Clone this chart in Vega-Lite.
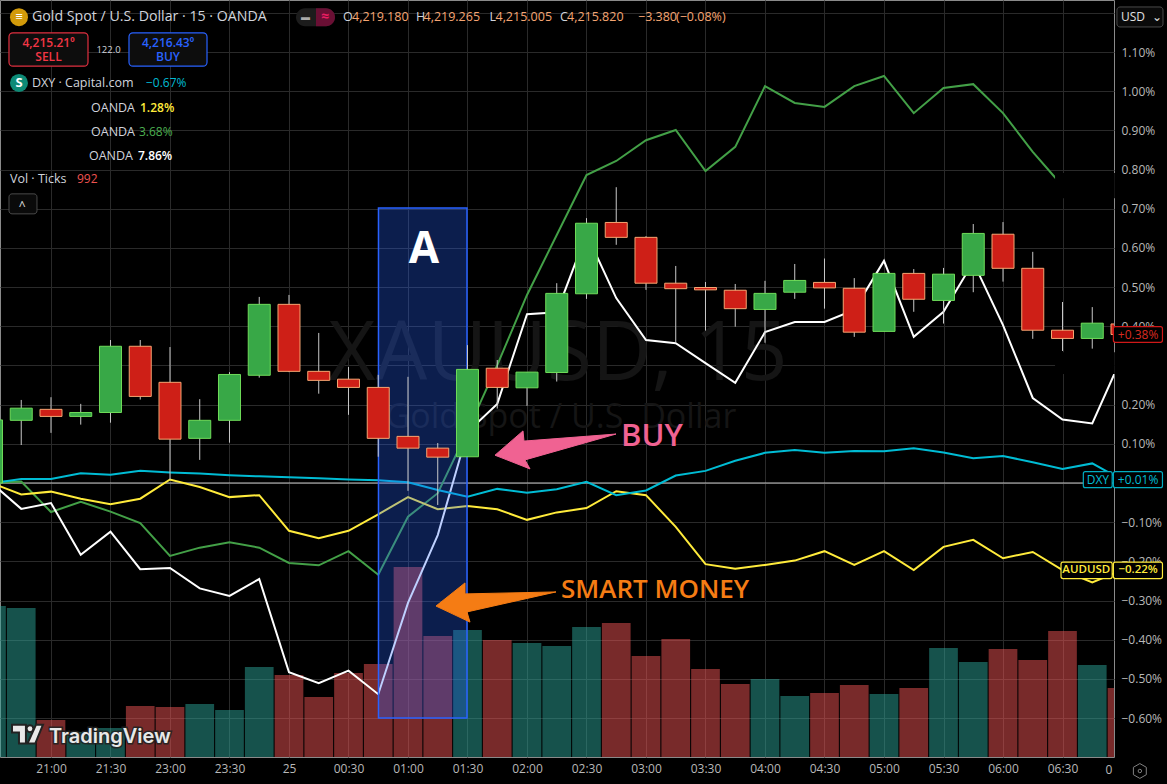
{"$schema":"https://vega.github.io/schema/vega-lite/v6.json","width":1114,"height":757,"autosize":{"type":"none"},"padding":{"left":0,"top":0,"right":53,"bottom":27},"background":"#000000","config":{"font":"Open Sans","view":{"stroke":"#8a8a8a"},"text":{"baseline":"middle","align":"left"}},
"datasets":{"bars":[
{"t":-2,"dir":"up","o":0,"c":0.161,"h":0.161,"l":0,"vol":2171,"white":0,"green":0,"yellow":0,"dxy":0},
{"t":-1,"dir":"up","o":0.16,"c":0.191,"h":0.212,"l":0.097,"vol":2143,"white":-0.066,"green":0.004,"yellow":-0.029,"dxy":0.01},
{"t":0,"dir":"down","o":0.188,"c":0.17,"h":0.219,"l":0.128,"vol":532,"white":-0.051,"green":-0.074,"yellow":-0.022,"dxy":0.01},
{"t":1,"dir":"up","o":0.17,"c":0.18,"h":0.202,"l":0.149,"vol":360,"white":-0.183,"green":-0.048,"yellow":-0.04,"dxy":0.025},
{"t":2,"dir":"up","o":0.18,"c":0.349,"h":0.365,"l":0.154,"vol":417,"white":-0.124,"green":-0.073,"yellow":-0.054,"dxy":0.021},
{"t":3,"dir":"down","o":0.349,"c":0.221,"h":0.365,"l":0.213,"vol":733,"white":-0.22,"green":-0.102,"yellow":-0.04,"dxy":0.031},
{"t":4,"dir":"down","o":0.257,"c":0.112,"h":0.347,"l":0.008,"vol":719,"white":-0.217,"green":-0.186,"yellow":0.009,"dxy":0.027},
{"t":5,"dir":"up","o":0.114,"c":0.16,"h":0.214,"l":0.059,"vol":762,"white":-0.269,"green":-0.165,"yellow":-0.01,"dxy":0.024},
{"t":6,"dir":"up","o":0.16,"c":0.277,"h":0.283,"l":0.103,"vol":676,"white":-0.288,"green":-0.151,"yellow":-0.036,"dxy":0.02},
{"t":7,"dir":"up","o":0.275,"c":0.456,"h":0.475,"l":0.269,"vol":1294,"white":-0.245,"green":-0.165,"yellow":-0.031,"dxy":0.017},
{"t":8,"dir":"down","o":0.456,"c":0.285,"h":0.48,"l":0.283,"vol":1179,"white":-0.483,"green":-0.204,"yellow":-0.122,"dxy":0.015},
{"t":9,"dir":"down","o":0.285,"c":0.262,"h":0.383,"l":0.228,"vol":863,"white":-0.511,"green":-0.21,"yellow":-0.141,"dxy":0.012},
{"t":10,"dir":"down","o":0.265,"c":0.244,"h":0.296,"l":0.174,"vol":1208,"white":-0.479,"green":-0.174,"yellow":-0.122,"dxy":0.009},
{"t":11,"dir":"down","o":0.244,"c":0.114,"h":0.276,"l":0.067,"vol":1337,"white":-0.539,"green":-0.234,"yellow":-0.08,"dxy":0.007},
{"t":12,"dir":"down","o":0.119,"c":0.089,"h":0.271,"l":-0.02,"vol":2732,"white":-0.306,"green":-0.086,"yellow":-0.036,"dxy":0.002},
{"t":13,"dir":"down","o":0.089,"c":0.066,"h":0.102,"l":-0.056,"vol":1740,"white":-0.133,"green":-0.026,"yellow":-0.067,"dxy":-0.018},
{"t":14,"dir":"up","o":0.067,"c":0.29,"h":0.352,"l":0.067,"vol":1826,"white":0.13,"green":0.133,"yellow":-0.059,"dxy":-0.035},
{"t":15,"dir":"down","o":0.293,"c":0.244,"h":0.314,"l":0.19,"vol":1682,"white":0.202,"green":0.301,"yellow":-0.067,"dxy":-0.015},
{"t":16,"dir":"up","o":0.243,"c":0.283,"h":0.283,"l":0.197,"vol":1639,"white":0.431,"green":0.48,"yellow":-0.094,"dxy":-0.025},
{"t":17,"dir":"up","o":0.282,"c":0.484,"h":0.51,"l":0.259,"vol":1596,"white":0.436,"green":0.633,"yellow":-0.075,"dxy":-0.016},
{"t":18,"dir":"up","o":0.483,"c":0.663,"h":0.676,"l":0.47,"vol":1869,"white":0.636,"green":0.786,"yellow":-0.064,"dxy":0.003},
{"t":19,"dir":"down","o":0.665,"c":0.627,"h":0.755,"l":0.608,"vol":1927,"white":0.472,"green":0.822,"yellow":-0.021,"dxy":-0.031},
{"t":20,"dir":"down","o":0.627,"c":0.51,"h":0.63,"l":0.493,"vol":1452,"white":0.365,"green":0.875,"yellow":-0.031,"dxy":-0.019},
{"t":21,"dir":"down","o":0.51,"c":0.496,"h":0.554,"l":0.36,"vol":1697,"white":0.357,"green":0.901,"yellow":-0.112,"dxy":0.019},
{"t":22,"dir":"down","o":0.499,"c":0.493,"h":0.513,"l":0.389,"vol":1265,"white":0.306,"green":0.796,"yellow":-0.207,"dxy":0.031},
{"t":23,"dir":"down","o":0.492,"c":0.445,"h":0.508,"l":0.399,"vol":1050,"white":0.256,"green":0.858,"yellow":-0.219,"dxy":0.057},
{"t":24,"dir":"up","o":0.443,"c":0.484,"h":0.516,"l":0.358,"vol":1122,"white":0.385,"green":1.013,"yellow":-0.209,"dxy":0.077},
{"t":25,"dir":"up","o":0.487,"c":0.517,"h":0.559,"l":0.47,"vol":877,"white":0.411,"green":0.97,"yellow":-0.198,"dxy":0.084},
{"t":26,"dir":"down","o":0.512,"c":0.498,"h":0.573,"l":0.445,"vol":920,"white":0.411,"green":0.96,"yellow":-0.174,"dxy":0.077},
{"t":27,"dir":"down","o":0.497,"c":0.385,"h":0.523,"l":0.373,"vol":1035,"white":0.442,"green":1.013,"yellow":-0.209,"dxy":0.082},
{"t":28,"dir":"up","o":0.387,"c":0.535,"h":0.535,"l":0.387,"vol":906,"white":0.567,"green":1.039,"yellow":-0.174,"dxy":0.081},
{"t":29,"dir":"down","o":0.535,"c":0.469,"h":0.546,"l":0.437,"vol":992,"white":0.373,"green":0.944,"yellow":-0.222,"dxy":0.089},
{"t":30,"dir":"up","o":0.466,"c":0.533,"h":0.549,"l":0.407,"vol":1567,"white":0.437,"green":1.008,"yellow":-0.163,"dxy":0.078},
{"t":31,"dir":"up","o":0.53,"c":0.637,"h":0.661,"l":0.487,"vol":1366,"white":0.564,"green":1.018,"yellow":-0.145,"dxy":0.063},
{"t":32,"dir":"down","o":0.635,"c":0.548,"h":0.666,"l":0.514,"vol":1553,"white":0.403,"green":0.944,"yellow":-0.192,"dxy":0.069},
{"t":33,"dir":"down","o":0.548,"c":0.39,"h":0.59,"l":0.368,"vol":1395,"white":0.217,"green":0.845,"yellow":-0.176,"dxy":0.053},
{"t":34,"dir":"down","o":0.39,"c":0.369,"h":0.462,"l":0.337,"vol":1812,"white":0.162,"green":0.758,"yellow":-0.222,"dxy":0.036},
{"t":35,"dir":"up","o":0.369,"c":0.408,"h":0.449,"l":0.343,"vol":1323,"white":0.152,"green":null,"yellow":-0.254,"dxy":0.05},
{"t":36,"dir":"down","o":0.406,"c":0.379,"h":0.406,"l":0.379,"vol":992,"white":0.322,"green":null,"yellow":-0.222,"dxy":0.008}
]},
"encoding":{"x":{"field":"t","type":"quantitative","scale":{"domain":[-1.714,35.731],"nice":false,"zero":false,"padding":0},"axis":{"title":null,"values":[0,2,4,6,8,10,12,14,16,18,20,22,24,26,28,30,32,34],"labelExpr":"['21:00','21:30','23:00','23:30','25','00:30','01:00','01:30','02:00','02:30','03:00','03:30','04:00','04:30','05:00','05:30','06:00','06:30'][datum.value/2]","grid":true,"gridColor":"#2a2a2a","gridWidth":1,"domain":false,"ticks":false,"labelColor":"#b8b8b8","labelFontSize":12,"labelPadding":6,"labelOverlap":false,"labelBound":false,"labelFlush":false}}},
"resolve":{"scale":{"y":"independent"}},
"layer":[
{"data":{"name":"bars"},"mark":{"type":"bar","size":28.7,"clip":true,"opacity":0.5},"encoding":{"y":{"field":"vol","type":"quantitative","scale":{"domain":[0,10886],"nice":false},"axis":null},"color":{"condition":{"test":"datum.dir==='up'","value":"#2ca498"},"value":"#f05454"}}},
{"encoding":{"y":{"field":"pct","type":"quantitative","scale":{"domain":[-0.6993,1.2328],"nice":false,"zero":false},"axis":{"title":null,"orient":"right","values":[1.2,1.1,1,0.9,0.8,0.7,0.6,0.5,0.4,0.3,0.2,0.1,0,-0.1,-0.2,-0.3,-0.4,-0.5,-0.6],"labelExpr":"abs(datum.value)<0.01||abs(datum.value-1.2)<0.01||abs(datum.value-0.3)<0.01?'':(datum.value<0?'−':'')+format(abs(datum.value),'.2f')+'%'","grid":true,"gridColor":"#2a2a2a","gridWidth":1,"domain":false,"ticks":false,"labelColor":"#b8b8b8","labelFontSize":12,"labelPadding":7,"labelOverlap":false,"labelBound":false,"labelFlush":false}}},
"layer":[
{"data":{"values":[{"t":17.04,"pct":0.327,"label":"XAUUSD, 15"}]},"mark":{"type":"text","align":"center","fontSize":82,"color":"#151515"},"encoding":{"text":{"field":"label"}}},
{"data":{"values":[{"t":17.14,"pct":0.166,"label":"Gold Spot / U.S. Dollar"}]},"mark":{"type":"text","align":"center","fontSize":34,"color":"#151515"},"encoding":{"text":{"field":"label"}}},
{"data":{"values":[{"t":-1.714,"t2":35.731,"pct":0}]},"mark":{"type":"rule","color":"#c8c8c8","strokeWidth":1},"encoding":{"x2":{"field":"t2"}}},
{"data":{"name":"bars"},"transform":[{"fold":["green","yellow","white","dxy"],"as":["series","pct"]}],"mark":{"type":"line","strokeWidth":2,"clip":true},"encoding":{"color":{"field":"series","type":"nominal","scale":{"domain":["green","yellow","white","dxy"],"range":["#43a047","#ffeb3b","#ffffff","#00bcd4"]},"legend":null}}},
{"data":{"values":[{"t":33.75,"t2":35.76,"pct":0.791,"pct2":0.727},{"t":33.75,"t2":35.76,"pct":0.334,"pct2":0.278}]},"mark":{"type":"rect","color":"#000000"},"encoding":{"x2":{"field":"t2"},"y2":{"field":"pct2"}}},
{"data":{"values":[{"t":11.008,"t2":13.983,"pct":0.702,"pct2":-0.6}]},"mark":{"type":"rect","fill":"#2962ff","fillOpacity":0.3,"stroke":"#2962ff","strokeWidth":1.5},"encoding":{"x2":{"field":"t2"},"y2":{"field":"pct2"}}},
{"data":{"name":"bars"},"mark":{"type":"rule","color":"#c8c8c8","strokeWidth":1,"clip":true},"encoding":{"y":{"field":"l","type":"quantitative"},"y2":{"field":"h"}}},
{"data":{"name":"bars"},"mark":{"type":"bar","size":22,"strokeWidth":1,"clip":true},"encoding":{"y":{"field":"o","type":"quantitative"},"y2":{"field":"c"},"fill":{"condition":{"test":"datum.dir==='up'","value":"#38a847"},"value":"#ce1f17"},"stroke":{"condition":{"test":"datum.dir==='up'","value":"#6fdc5a"},"value":"#f5a572"}}},
{"data":{"values":[{"n":1,"t":14.924,"pct":0.071},{"n":2,"t":15.866,"pct":0.133},{"n":3,"t":15.899,"pct":0.107},{"n":4,"t":18.992,"pct":0.125},{"n":5,"t":15.933,"pct":0.059},{"n":6,"t":16.101,"pct":0.036},{"n":7,"t":14.924,"pct":0.071}]},"mark":{"type":"line","fill":"#f06292","stroke":"#f06292","strokeWidth":1},"encoding":{"order":{"field":"n","type":"ordinal"}}},
{"data":{"values":[{"n":1,"t":12.941,"pct":-0.314},{"n":2,"t":13.916,"pct":-0.255},{"n":3,"t":13.916,"pct":-0.283},{"n":4,"t":16.975,"pct":-0.278},{"n":5,"t":13.983,"pct":-0.329},{"n":6,"t":14.084,"pct":-0.355},{"n":7,"t":12.941,"pct":-0.314}]},"mark":{"type":"line","fill":"#f57c14","stroke":"#f57c14","strokeWidth":1},"encoding":{"order":{"field":"n","type":"ordinal"}}},
{"data":{"values":[{"t":12.538,"pct":0.595,"label":"A"}]},"mark":{"type":"text","align":"center","fontSize":44,"fontWeight":"bold","color":"#ffffff"},"encoding":{"text":{"field":"label"}}},
{"data":{"values":[{"t":19.16,"pct":0.117,"label":"BUY"}]},"mark":{"type":"text","fontSize":31,"fontWeight":600,"color":"#f06292"},"encoding":{"text":{"field":"label"}}},
{"data":{"values":[{"t":17.143,"pct":-0.273,"label":"SMART MONEY"}]},"mark":{"type":"text","fontSize":26,"fontWeight":600,"color":"#f57c14"},"encoding":{"text":{"field":"label"}}},
{"data":{"values":[{"t":35.71,"t2":37.36,"pct":0.399,"pct2":0.359}]},"mark":{"type":"rect","fill":"#000000","stroke":"#d01818","strokeWidth":1.2,"cornerRadius":2},"encoding":{"x2":{"field":"t2"},"y2":{"field":"pct2"}}},
{"data":{"values":[{"t":36.54,"pct":0.379,"label":"+0.38%"}]},"mark":{"type":"text","align":"center","fontSize":12,"color":"#d92a20"},"encoding":{"text":{"field":"label"}}},
{"data":{"values":[{"t":34.7,"t2":35.67,"pct":0.029,"pct2":-0.012},{"t":35.71,"t2":37.36,"pct":0.029,"pct2":-0.012}]},"mark":{"type":"rect","fill":"#000000","stroke":"#00acc1","strokeWidth":1.2,"cornerRadius":2},"encoding":{"x2":{"field":"t2"},"y2":{"field":"pct2"}}},
{"data":{"values":[{"t":35.19,"pct":0.008,"label":"DXY"},{"t":36.54,"pct":0.008,"label":"+0.01%"}]},"mark":{"type":"text","align":"center","fontSize":12,"color":"#00bcd4"},"encoding":{"text":{"field":"label"}}},
{"data":{"values":[{"t":33.95,"t2":35.67,"pct":-0.202,"pct2":-0.244},{"t":35.71,"t2":37.36,"pct":-0.202,"pct2":-0.244}]},"mark":{"type":"rect","fill":"#000000","stroke":"#ffeb3b","strokeWidth":1.2,"cornerRadius":2},"encoding":{"x2":{"field":"t2"},"y2":{"field":"pct2"}}},
{"data":{"values":[{"t":34.8,"pct":-0.223,"label":"AUDUSD"},{"t":36.54,"pct":-0.223,"label":"−0.22%"}]},"mark":{"type":"text","align":"center","fontSize":11.5,"fontWeight":600,"color":"#ffeb3b"},"encoding":{"text":{"field":"label"}}},
{"data":{"values":[{"t":35.56,"pct":-0.7325,"label":"0"}]},"mark":{"type":"text","fontSize":12,"align":"center","color":"#b8b8b8"},"encoding":{"text":{"field":"label"}}},
{"data":{"values":[{"t":36.6,"pct":-0.735}]},"mark":{"type":"point","shape":"M0,-1L.87,-.5L.87,.5L0,1L-.87,.5L-.87,-.5Z","size":220,"stroke":"#b8b8b8","strokeWidth":1,"filled":false}},
{"data":{"values":[{"t":36.6,"pct":-0.735}]},"mark":{"type":"point","shape":"circle","size":12,"stroke":"#b8b8b8","strokeWidth":1,"filled":false}},
{"data":{"values":[{"t":-0.79,"pct":-0.641}]},"mark":{"type":"point","shape":"M-1,-.61L-.1,-.61L-.1,.61L-.55,.61L-.55,-.1L-1,-.1ZM-.06,-.35a.22,.22 0 1,0 .44,0a.22,.22 0 1,0 -.44,0ZM.55,-.61L1,-.61L.5,.61L0,.61Z","size":961,"fill":"#e8e8e8","stroke":"#222222","strokeWidth":2,"filled":true,"opacity":1}},
{"data":{"values":[{"t":-0.067,"pct":-0.648,"label":"TradingView"}]},"mark":{"type":"text","font":"Inter","fontWeight":600,"fontSize":20,"color":"#e8e8e8","stroke":"#222222","strokeWidth":3,"strokeOpacity":0.9}, "encoding":{"text":{"field":"label"}}},
{"data":{"values":[{"t":-0.067,"pct":-0.648,"label":"TradingView"}]},"mark":{"type":"text","font":"Inter","fontWeight":600,"fontSize":20,"color":"#e8e8e8"},"encoding":{"text":{"field":"label"}}},
{"data":{"values":[{"t":-1.076,"pct":1.189}]},"mark":{"type":"point","shape":"circle","size":324,"filled":true,"color":"#d29a0a","opacity":1}},
{"data":{"values":[{"t":-1.076,"pct":1.021}]},"mark":{"type":"point","shape":"circle","size":324,"filled":true,"color":"#0d8a76","opacity":1}},
{"data":{"values":[{"t":-1.076,"pct":1.189,"label":"≡"},{"t":-1.076,"pct":1.021,"label":"S"}]},"mark":{"type":"text","align":"center","fontSize":13,"fontWeight":"bold","color":"#ffffff"},"encoding":{"text":{"field":"label"}}},
{"data":{"values":[{"t":-0.639,"pct":1.189,"label":"Gold Spot / U.S. Dollar · 15 · OANDA"}]},"mark":{"type":"text","fontSize":14.2,"color":"#d1d4dc"},"encoding":{"text":{"field":"label"}}},
{"data":{"values":[{"t":8.235,"t2":9.546,"pct":1.212,"pct2":1.166}]},"mark":{"type":"rect","fill":"#1c1c1c","cornerRadius":9},"encoding":{"x2":{"field":"t2"},"y2":{"field":"pct2"}}},
{"data":{"values":[{"t":8.908,"t2":9.546,"pct":1.212,"pct2":1.166}]},"mark":{"type":"rect","fill":"#6a0f34","cornerRadiusTopRight":9,"cornerRadiusBottomRight":9},"encoding":{"x2":{"field":"t2"},"y2":{"field":"pct2"}}},
{"data":{"values":[{"t":8.555,"pct":1.189,"label":"▬"}]},"mark":{"type":"text","align":"center","fontSize":9,"color":"#aaaaaa"},"encoding":{"text":{"field":"label"}}},
{"data":{"values":[{"t":9.21,"pct":1.189,"label":"≈"}]},"mark":{"type":"text","align":"center","fontSize":14,"fontWeight":"bold","color":"#e91e63"},"encoding":{"text":{"field":"label"}}},
{"data":{"values":[{"t":9.815,"pct":1.189,"label":"O"},{"t":12.269,"pct":1.189,"label":"H"},{"t":14.739,"pct":1.189,"label":"L"},{"t":17.109,"pct":1.189,"label":"C"}]},"mark":{"type":"text","fontSize":12.5,"color":"#d1d4dc"},"encoding":{"text":{"field":"label"}}},
{"data":{"values":[{"t":10.118,"pct":1.189,"label":"4,219.180"},{"t":12.521,"pct":1.189,"label":"4,219.265"},{"t":14.941,"pct":1.189,"label":"4,215.005"},{"t":17.345,"pct":1.189,"label":"4,215.820"},{"t":19.731,"pct":1.189,"label":"−3.380"},{"t":21.008,"pct":1.189,"label":"(−0.08%)"}]},"mark":{"type":"text","fontSize":12.5,"color":"#f5a572"},"encoding":{"text":{"field":"label"}}},
{"data":{"values":[{"t":35.83,"t2":37.378,"pct":1.215,"pct2":1.164},{"t":-1.412,"t2":-0.471,"pct":0.738,"pct2":0.687}]},"mark":{"type":"rect","fill":"#0a0a0a","stroke":"#4a4a4a","strokeWidth":1,"cornerRadius":3},"encoding":{"x2":{"field":"t2"},"y2":{"field":"pct2"}}},
{"data":{"values":[{"t":35.966,"pct":1.189,"label":"USD"},{"t":37.0,"pct":1.189,"label":"⌄"},{"t":-1.08,"pct":0.707,"label":"^"}]},"mark":{"type":"text","fontSize":12,"color":"#e0e0e0"},"encoding":{"text":{"field":"label"}}},
{"data":{"values":[{"t":-1.412,"t2":1.244,"pct":1.149,"pct2":1.064}]},"mark":{"type":"rect","fill":"#0d0d0d","stroke":"#e03040","strokeWidth":1.2,"cornerRadius":4},"encoding":{"x2":{"field":"t2"},"y2":{"field":"pct2"}}},
{"data":{"values":[{"t":2.622,"t2":5.244,"pct":1.149,"pct2":1.064}]},"mark":{"type":"rect","fill":"#0d0d0d","stroke":"#2962ff","strokeWidth":1.2,"cornerRadius":4},"encoding":{"x2":{"field":"t2"},"y2":{"field":"pct2"}}},
{"data":{"values":[{"t":-0.084,"pct":1.123,"label":"4,215.21⁰"},{"t":-0.084,"pct":1.087,"label":"SELL"}]},"mark":{"type":"text","align":"center","fontSize":12,"fontWeight":600,"color":"#f23645"},"encoding":{"text":{"field":"label"}}},
{"data":{"values":[{"t":3.933,"pct":1.123,"label":"4,216.43⁰"},{"t":3.933,"pct":1.087,"label":"BUY"}]},"mark":{"type":"text","align":"center","fontSize":12,"fontWeight":600,"color":"#2962ff"},"encoding":{"text":{"field":"label"}}},
{"data":{"values":[{"t":1.933,"pct":1.105,"label":"122.0"}]},"mark":{"type":"text","align":"center","fontSize":9.5,"color":"#d1d4dc"},"encoding":{"text":{"field":"label"}}},
{"data":{"values":[{"t":-0.639,"pct":1.021,"label":"DXY · Capital.com"},{"t":1.345,"pct":0.957,"label":"OANDA"},{"t":1.345,"pct":0.896,"label":"OANDA"},{"t":1.277,"pct":0.835,"label":"OANDA"},{"t":-1.378,"pct":0.776,"label":"Vol · Ticks"}]},"mark":{"type":"text","fontSize":12.5,"color":"#d1d4dc"},"encoding":{"text":{"field":"label"}}},
{"data":{"values":[{"t":3.193,"pct":1.021,"label":"−0.67%"}]},"mark":{"type":"text","fontSize":12,"color":"#00bcd4"},"encoding":{"text":{"field":"label"}}},
{"data":{"values":[{"t":2.992,"pct":0.957,"label":"1.28%"}]},"mark":{"type":"text","fontSize":12,"fontWeight":600,"color":"#ffeb3b"},"encoding":{"text":{"field":"label"}}},
{"data":{"values":[{"t":2.958,"pct":0.896,"label":"3.68%"}]},"mark":{"type":"text","fontSize":12,"color":"#4caf50"},"encoding":{"text":{"field":"label"}}},
{"data":{"values":[{"t":2.924,"pct":0.835,"label":"7.86%"}]},"mark":{"type":"text","fontSize":12,"fontWeight":600,"color":"#ffffff"},"encoding":{"text":{"field":"label"}}},
{"data":{"values":[{"t":0.874,"pct":0.776,"label":"992"}]},"mark":{"type":"text","fontSize":12,"color":"#ef5350"},"encoding":{"text":{"field":"label"}}}
]}
]}
